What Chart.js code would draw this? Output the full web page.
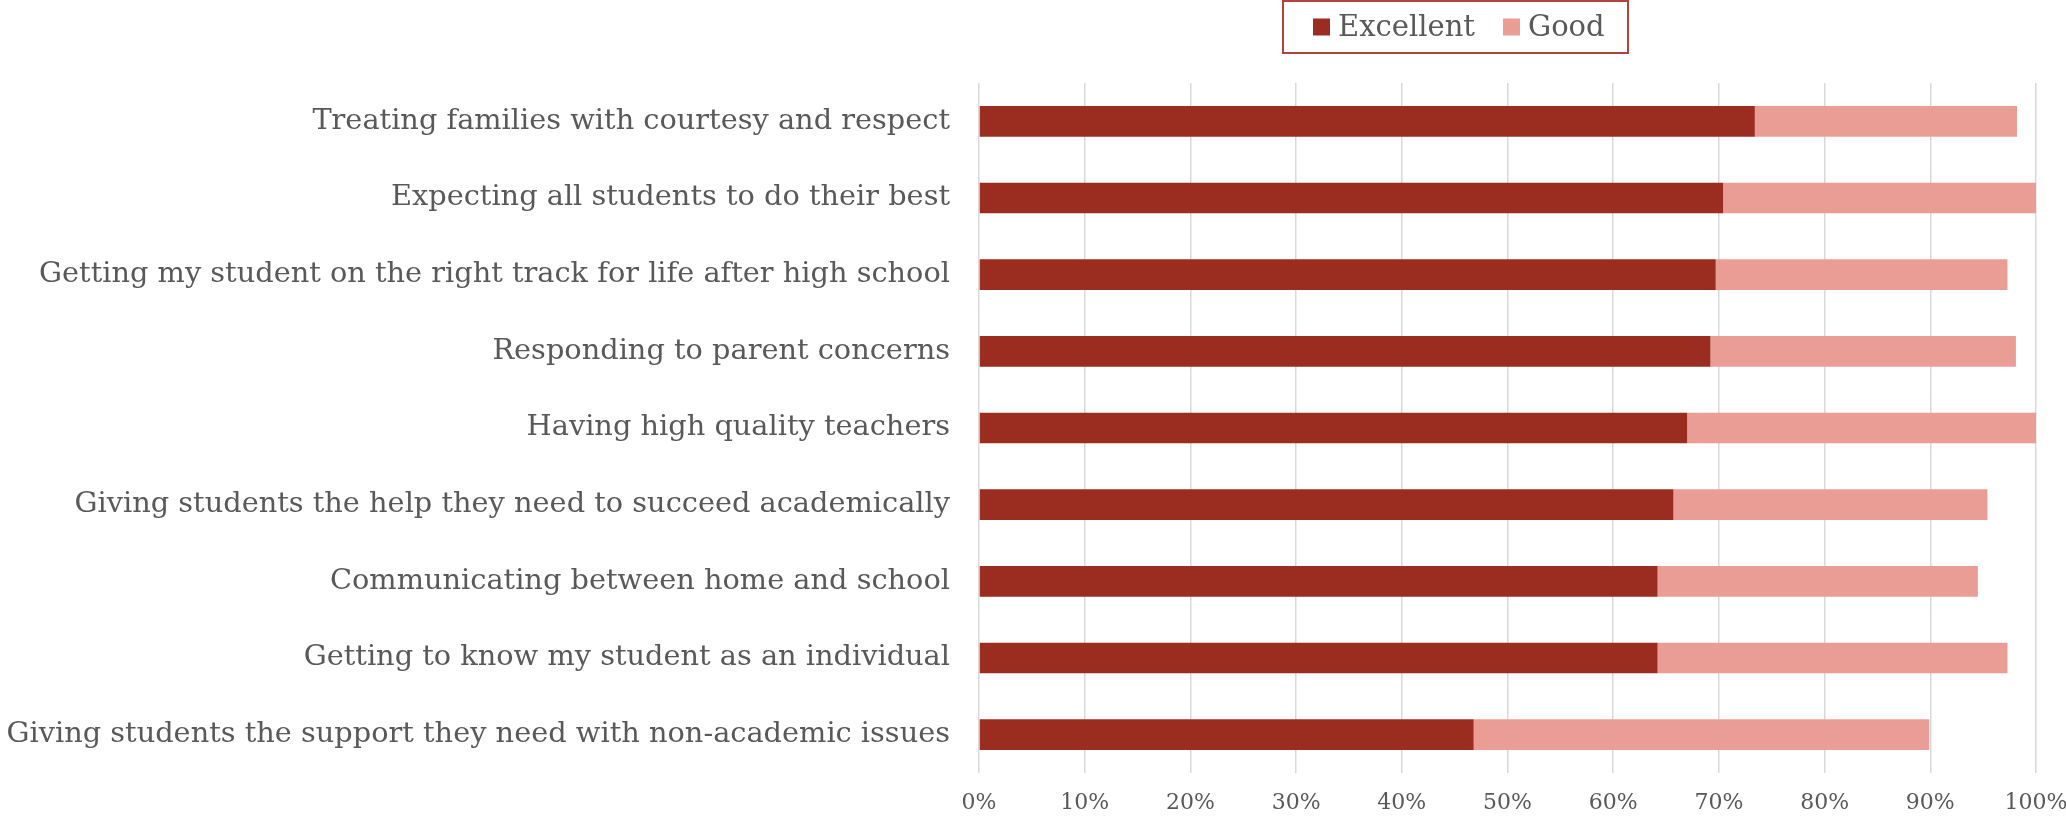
<!DOCTYPE html>
<html>
<head>
<meta charset="utf-8">
<script src="https://cdn.jsdelivr.net/npm/chart.js@4.4.1/dist/chart.umd.min.js"></script>
<style>
  html, body { margin: 0; padding: 0; background: #ffffff; }
  #wrap { width: 2066px; height: 818px; position: relative; }
  canvas { display: block; }
</style>
</head>
<body>
<div id="wrap"><canvas id="chart" width="2066" height="818"></canvas></div>
<script>
// Survey items, top to bottom
const categories = [
  "Treating families with courtesy and respect",
  "Expecting all students to do their best",
  "Getting my student on the right track for life after high school",
  "Responding to parent concerns",
  "Having high quality teachers",
  "Giving students the help they need to succeed academically",
  "Communicating between home and school",
  "Getting to know my student as an individual",
  "Giving students the support they need with non-academic issues"
];

// Share of respondents (%) per rating
const excellent = [73.4, 70.4, 69.7, 69.2, 67.0, 65.7, 64.2, 64.2, 46.8];
const good      = [24.8, 29.6, 27.6, 28.9, 33.0, 29.7, 30.3, 33.1, 43.1];

const seriesNames = ["Excellent", "Good"];
const xTickLabels = ["0%", "10%", "20%", "30%", "40%", "50%", "60%", "70%", "80%", "90%", "100%"];

const FONT = "'DejaVu Serif', 'Liberation Serif', serif";
const TEXT = "#595959";

// Framed legend drawn above the plot, using the dataset labels and colours
const boxedLegend = {
  id: "boxedLegend",
  afterDraw(chart) {
    const ctx = chart.ctx;
    const sets = chart.data.datasets;
    const boxLeft = 1283, boxTop = 1, boxW = 345, boxH = 52;
    const sq = 17, gapText = 8, gapItem = 28, padL = 30;
    ctx.save();
    ctx.strokeStyle = "#b0433a";
    ctx.lineWidth = 2;
    ctx.strokeRect(boxLeft, boxTop, boxW, boxH);
    ctx.font = "29px " + FONT;
    ctx.textBaseline = "middle";
    ctx.textAlign = "left";
    let x = boxLeft + padL;
    const cy = boxTop + boxH / 2;
    sets.forEach(ds => {
      ctx.fillStyle = ds.backgroundColor;
      ctx.fillRect(x, cy - sq / 2, sq, sq);
      x += sq + gapText;
      ctx.fillStyle = TEXT;
      ctx.fillText(ds.label, x, cy + 1);
      x += ctx.measureText(ds.label).width + gapItem;
    });
    ctx.restore();
  }
};

new Chart(document.getElementById("chart"), {
  type: "bar",
  data: {
    labels: categories,
    datasets: [
      { label: seriesNames[0], data: excellent, backgroundColor: "#9b2d20",
        barPercentage: 0.4, categoryPercentage: 1.0, borderWidth: 0 },
      { label: seriesNames[1], data: good, backgroundColor: "#ea9d94",
        barPercentage: 0.4, categoryPercentage: 1.0, borderWidth: 0 }
    ]
  },
  options: {
    indexAxis: "y",
    responsive: false,
    animation: false,
    devicePixelRatio: 1,
    layout: { padding: { top: 83, right: 30, bottom: 0, left: 0 } },
    plugins: {
      legend: { display: false },
      tooltip: { enabled: false }
    },
    scales: {
      x: {
        type: "linear",
        stacked: true,
        min: 0,
        max: 100,
        ticks: {
          stepSize: 10,
          padding: 17,
          color: TEXT,
          font: { family: FONT, size: 22 },
          callback: (v, i) => xTickLabels[i]
        },
        grid: { color: "#d9d9d9", lineWidth: 1.5, drawTicks: false },
        border: { display: false },
        afterFit: s => { s.height = 45; s.paddingLeft = 0; s.paddingRight = 0; }
      },
      y: {
        stacked: true,
        grid: { display: false },
        border: { display: false },
        ticks: {
          padding: 21,
          color: TEXT,
          font: { family: FONT, size: 28.8 }
        },
        afterFit: s => { s.width = 979; }
      }
    }
  },
  plugins: [boxedLegend]
});
</script>
</body>
</html>
